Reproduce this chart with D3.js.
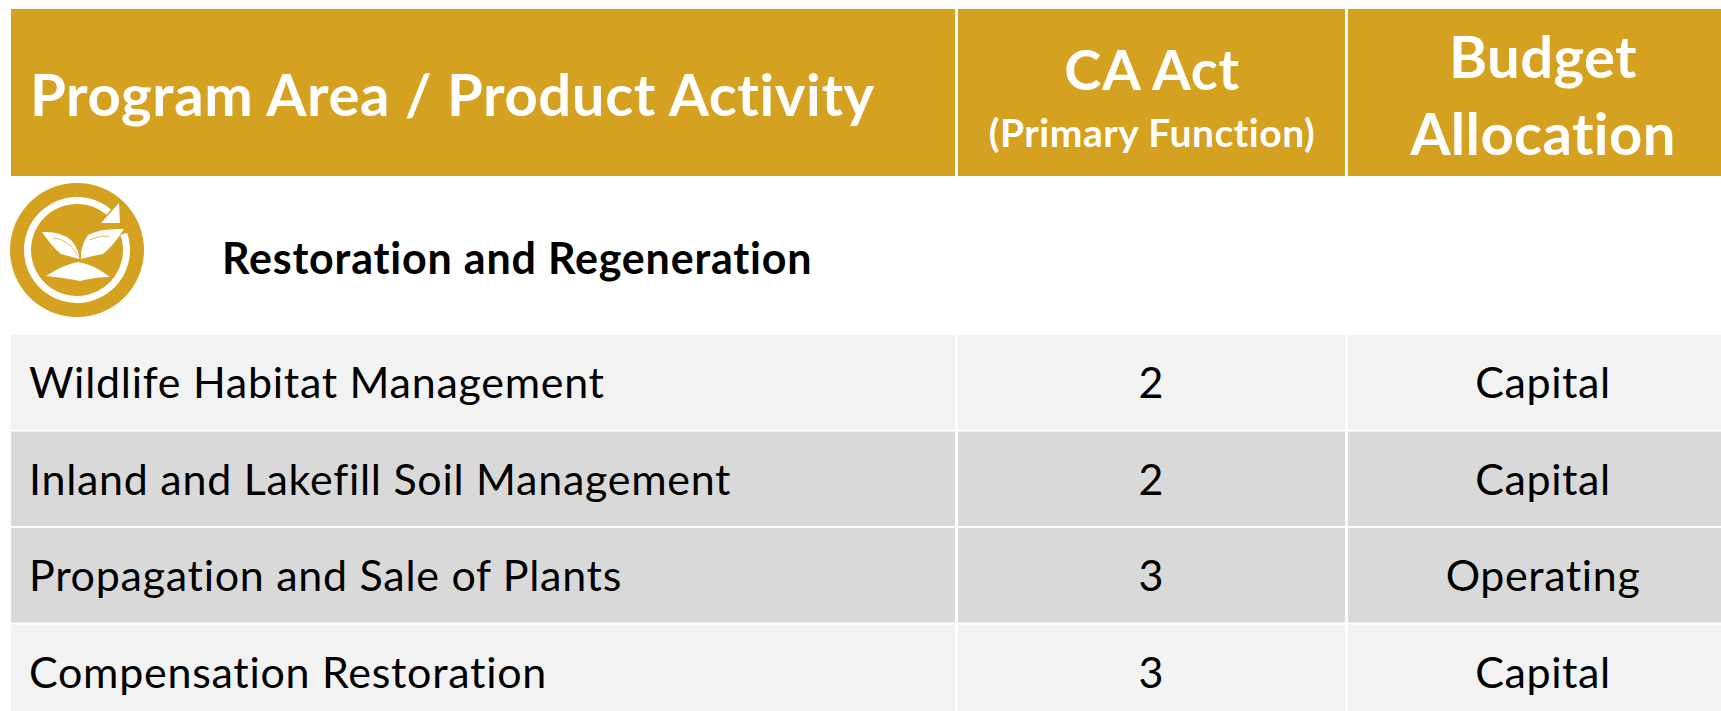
<!DOCTYPE html>
<html>
<head>
<meta charset="utf-8">
<script src="https://cdn.jsdelivr.net/npm/d3@7"></script>
<style>
    html, body { margin: 0; padding: 0; background: #fff; overflow: hidden; }
    svg { display: block; }
    text { font-family: Lato, "Open Sans", sans-serif; font-variant-ligatures: none; }
</style>
</head>
<body>
<div id="chart"></div>
<script>
// table content
var columns = ["activity", "act", "budget"];
var sectionTitle = "Restoration and Regeneration";
var activities = ["Wildlife Habitat Management", "Inland and Lakefill Soil Management", "Propagation and Sale of Plants", "Compensation Restoration"];
var caAct = ["2", "2", "3", "3"];
var budget = ["Capital", "Capital", "Operating", "Capital"];
var rowFills = ["#f2f2f2", "#d9d9d9", "#d9d9d9", "#f2f2f2"];

var width = 1721, height = 711;
var gold = "#d5a120";

var svg = d3.select("#chart").append("svg")
    .attr("width", width)
    .attr("height", height);

//column edges, the last two columns are narrower
var colEdges = d3.scaleOrdinal().domain(columns).range([11, 958, 1348]);
var colWidths = d3.scaleOrdinal().domain(columns).range([944, 387, 373]);

var yRow = d3.scaleBand()
    .domain(activities)
    .range([335, 335 + 96 * 4])
    .paddingInner(2 / 96);

// header cells
svg.selectAll(".head")
    .data(columns)
    .enter().append("rect")
    .attr("class", "head")
    .attr("x", function (d) { return colEdges(d); })
    .attr("y", 9)
    .attr("width", function (d) { return colWidths(d); })
    .attr("height", 167)
    .attr("fill", gold);

function headText(str, x, y, size, anchor, spacing) {
    svg.append("text")
        .attr("x", x)
        .attr("y", y)
        .attr("text-anchor", anchor)
        .attr("font-size", size)
        .attr("font-weight", 700)
        .attr("letter-spacing", spacing)
        .attr("fill", "#fff")
        .text(str);
}

headText("Program Area / Product Activity", 30, 116, 58, "start", 0.6);
headText("CA Act", 1152, 90, 56, "middle", 0.6);
headText("(Primary Function)", 1152, 147, 39, "middle", 0.5);
headText("Budget", 1543, 78, 58, "middle", 0.4);
headText("Allocation", 1543, 155, 58, "middle", 0.4);

// section icon
var icon = svg.append("g").attr("transform", "translate(77,250)");
icon.append("circle").attr("r", 67).attr("fill", gold);
icon.append("path")
    .attr("d", d3.arc()
        .innerRadius(46)
        .outerRadius(53)
        .startAngle(71 * Math.PI / 180)
        .endAngle(400 * Math.PI / 180)())
    .attr("fill", "#fff");
// arrow head, leaves and soil
var iconShapes = [
    "M42,-47 L43,-27 L24,-27 Z",
    "M-35,-18 Q-17,-19 -6,-10 Q0,-3 2,5 L2,9 Q-8,6 -16,4 Q-24,-2 -35,-18 Z",
    "M47,-21 Q23,-22 11,-15 Q5,-6 4,3 L4,9 Q14,6 26,4 Q38,-6 47,-21 Z",
    "M-31,26 Q-12,14 1,12 Q16,14 33,27 Q18,27 3,31 Q-12,28 -31,26 Z"
];
icon.selectAll(".shape")
    .data(iconShapes)
    .enter().append("path")
    .attr("class", "shape")
    .attr("d", function (d) { return d; })
    .attr("fill", "#fff");
// leaf veins
icon.selectAll(".vein")
    .data(["M-24,-12 Q-8,-11 1,6", "M12,-10 Q20,-14 32,-14"])
    .enter().append("path")
    .attr("class", "vein")
    .attr("d", function (d) { return d; })
    .attr("fill", "none")
    .attr("stroke", gold)
    .attr("stroke-width", 0.7);

svg.append("text")
    .attr("x", 222)
    .attr("y", 274)
    .attr("font-size", 43)
    .attr("font-weight", 700)
    .attr("letter-spacing", 0.8)
    .attr("fill", "#000")
    .text(sectionTitle);

// body rows
var rows = svg.selectAll(".row")
    .data(activities)
    .enter().append("g")
    .attr("class", "row")
    .attr("transform", function (d) { return "translate(0," + yRow(d) + ")"; });

columns.forEach(function (c) {
    rows.append("rect")
        .attr("x", colEdges(c))
        .attr("width", colWidths(c))
        .attr("height", yRow.bandwidth())
        .attr("fill", function (d, i) { return rowFills[i]; });
});

rows.append("text")
    .attr("x", 29)
    .attr("y", 63)
    .attr("font-size", 43)
    .attr("letter-spacing", 0.72)
    .attr("fill", "#000")
    .text(function (d) { return d; });

rows.append("text")
    .attr("x", 1151)
    .attr("y", 63)
    .attr("text-anchor", "middle")
    .attr("font-size", 43)
    .attr("fill", "#000")
    .text(function (d, i) { return caAct[i]; });

rows.append("text")
    .attr("x", 1543)
    .attr("y", 63)
    .attr("text-anchor", "middle")
    .attr("font-size", 43)
    .attr("letter-spacing", 0.6)
    .attr("fill", "#000")
    .text(function (d, i) { return budget[i]; });
</script>
</body>
</html>
